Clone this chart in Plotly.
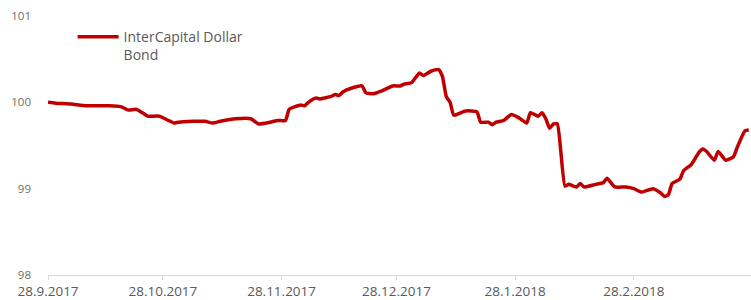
import plotly.graph_objects as go

series_name = "InterCapital Dollar<br>Bond"

dates = [
    "2017-09-28", "2017-09-30", "2017-10-04", "2017-10-08", "2017-10-14", "2017-10-17",
    "2017-10-19", "2017-10-21", "2017-10-23", "2017-10-24", "2017-10-27", "2017-10-31",
    "2017-11-01", "2017-11-05", "2017-11-08", "2017-11-10", "2017-11-12", "2017-11-16",
    "2017-11-20", "2017-11-22", "2017-11-25", "2017-11-27", "2017-11-29", "2017-11-30",
    "2017-12-03", "2017-12-04", "2017-12-05", "2017-12-07", "2017-12-08", "2017-12-11",
    "2017-12-12", "2017-12-13", "2017-12-14", "2017-12-16", "2017-12-19", "2017-12-20",
    "2017-12-22", "2017-12-24", "2017-12-27", "2017-12-29", "2017-12-30", "2018-01-01",
    "2018-01-03", "2018-01-04", "2018-01-06", "2018-01-08", "2018-01-09", "2018-01-10",
    "2018-01-11", "2018-01-12", "2018-01-15", "2018-01-18", "2018-01-19", "2018-01-21",
    "2018-01-22", "2018-01-23", "2018-01-25", "2018-01-27", "2018-01-29", "2018-01-31",
    "2018-02-01", "2018-02-03", "2018-02-04", "2018-02-05", "2018-02-06", "2018-02-07",
    "2018-02-08", "2018-02-10", "2018-02-11", "2018-02-13", "2018-02-14", "2018-02-15",
    "2018-02-18", "2018-02-20", "2018-02-21", "2018-02-23", "2018-02-26", "2018-02-28",
    "2018-03-02", "2018-03-05", "2018-03-07", "2018-03-08", "2018-03-09", "2018-03-10",
    "2018-03-12", "2018-03-13", "2018-03-15", "2018-03-17", "2018-03-18", "2018-03-19",
    "2018-03-21", "2018-03-22", "2018-03-24", "2018-03-26", "2018-03-27", "2018-03-29",
    "2018-03-30",
]

values = [
    100.00, 99.99, 99.98, 99.96, 99.96, 99.95,
    99.91, 99.92, 99.87, 99.84, 99.84, 99.76,
    99.77, 99.78, 99.78, 99.76, 99.78, 99.81,
    99.81, 99.75, 99.77, 99.79, 99.79, 99.92,
    99.97, 99.96, 100.00, 100.05, 100.04, 100.07,
    100.09, 100.08, 100.12, 100.16, 100.19, 100.11,
    100.10, 100.13, 100.19, 100.19, 100.21, 100.23,
    100.34, 100.31, 100.36, 100.38, 100.30, 100.07,
    100.00, 99.85, 99.90, 99.89, 99.77, 99.77,
    99.74, 99.77, 99.79, 99.86, 99.82, 99.76,
    99.88, 99.84, 99.88, 99.81, 99.70, 99.75,
    99.75, 99.03, 99.05, 99.02, 99.06, 99.02,
    99.05, 99.07, 99.12, 99.02, 99.02, 99.00,
    98.96, 99.00, 98.95, 98.91, 98.93, 99.06,
    99.11, 99.21, 99.28, 99.42, 99.46, 99.43,
    99.33, 99.43, 99.33, 99.37, 99.48, 99.67,
    99.68,
]

tick_dates = ["2017-09-28", "2017-10-28", "2017-11-28", "2017-12-28", "2018-01-28", "2018-02-28"]
tick_labels = ["28.9.2017", "28.10.2017", "28.11.2017", "28.12.2017", "28.1.2018", "28.2.2018"]
y_ticks = [98, 99, 100, 101]

fig = go.Figure()
fig.add_trace(go.Scatter(
    x=dates, y=values, mode="lines", name=series_name,
    line=dict(color="#C00000", width=3.5, shape="spline", smoothing=0.5),
))

fig.update_layout(
    width=751, height=300,
    margin=dict(l=48, r=0, t=16, b=20),
    paper_bgcolor="white", plot_bgcolor="white",
    font=dict(family="Open Sans", color="#595959"),
    showlegend=True,
    legend=dict(
        x=0.035, y=0.98, xanchor="left", yanchor="top",
        font=dict(size=14, color="#595959"),
        bgcolor="rgba(0,0,0,0)", itemwidth=41, valign="top",
    ),
    xaxis=dict(
        type="date",
        range=["2017-09-28", "2018-03-30 14:00"],
        tickvals=tick_dates, ticktext=tick_labels,
        tickfont=dict(size=13.5, color="#595959"),
        showgrid=False, showline=True, linecolor="#d9d9d9", linewidth=1,
        ticks="outside", ticklen=4, tickcolor="#d9d9d9",
        zeroline=False,
    ),
    yaxis=dict(
        range=[98, 101], tickvals=y_ticks,
        tickfont=dict(size=11.5, color="#6f6f6f"),
        showgrid=False, showline=False, zeroline=False,
        ticks="", ticklabelstandoff=16,
    ),
)

fig.write_html(
    "out.html",
    config={"displayModeBar": False},
    post_script="document.body.style.margin='0';document.body.style.overflow='hidden';",
)
